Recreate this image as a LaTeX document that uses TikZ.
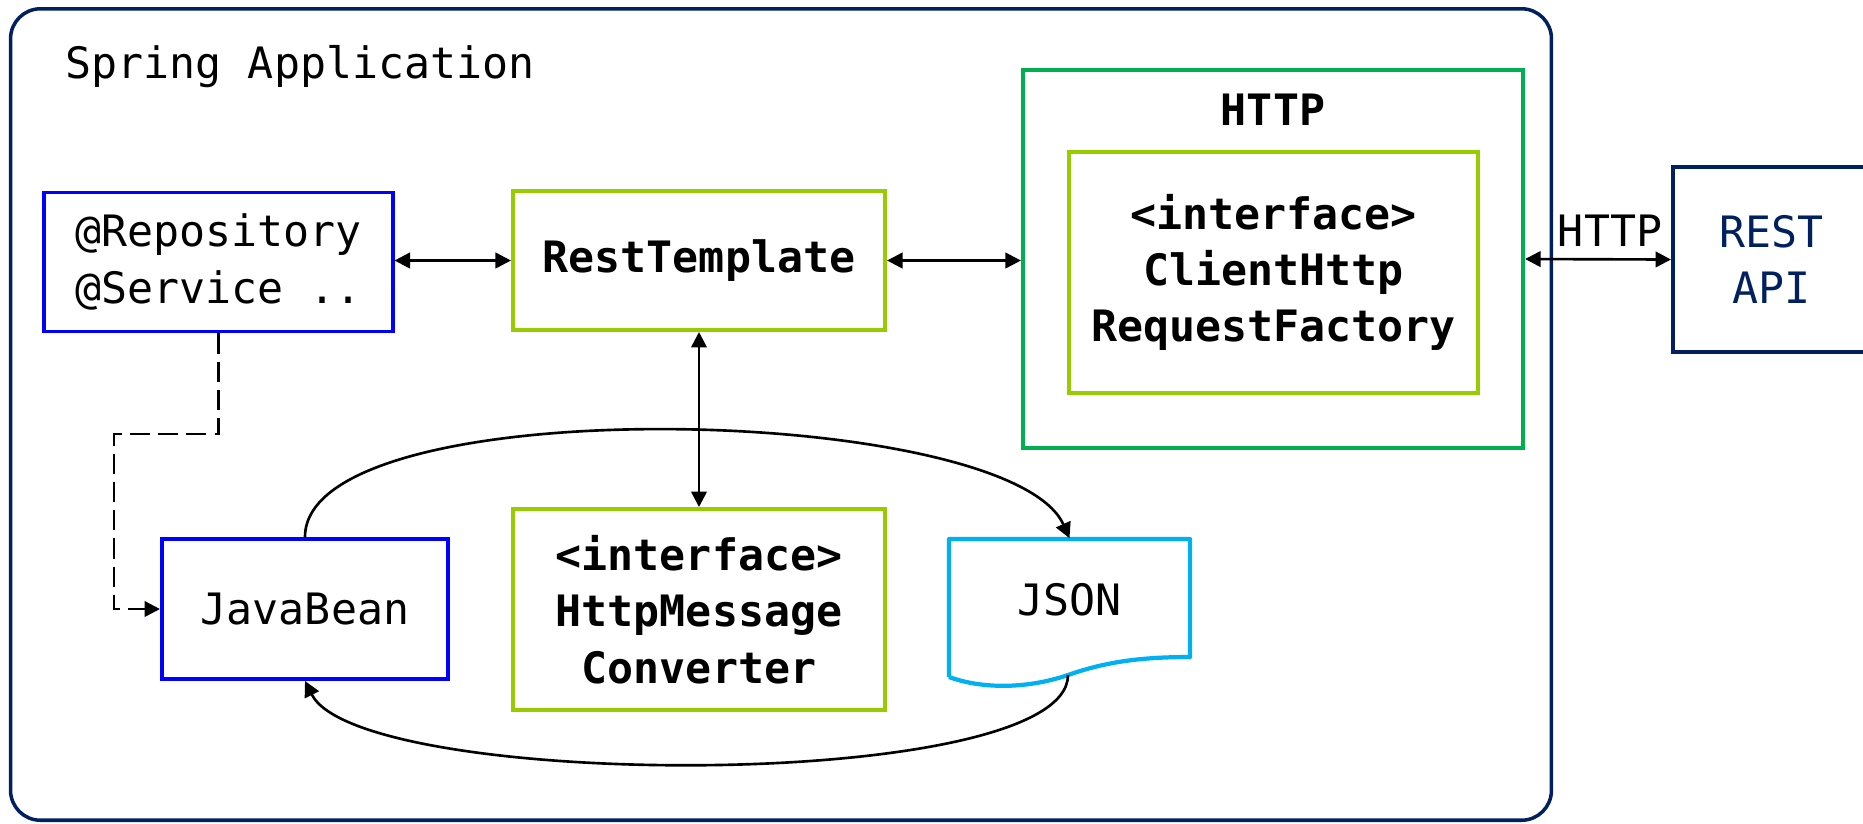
\documentclass[tikz,border=0pt]{standalone}
\usepackage{fontspec}
\setmonofont{DejaVu Sans Mono}
\usetikzlibrary{arrows.meta, positioning, calc}
\definecolor{navyline}{HTML}{002060}
\definecolor{beanblue}{HTML}{0000FF}
\definecolor{httpgreen}{HTML}{00B050}
\definecolor{limegreen}{HTML}{99CC00}
\definecolor{jsoncyan}{HTML}{00B0F0}
\begin{document}
\begin{tikzpicture}[x=0.01cm, y=-0.01cm,
  font=\ttfamily\fontsize{12.3}{16}\selectfont,
  box/.style={draw, line width=1.1pt, inner sep=0pt, align=center},
  link/.style={line width=0.75pt, {Triangle[length=4.4pt,width=4.4pt]}-{Triangle[length=4.4pt,width=4.4pt]}},
  flow/.style={line width=0.75pt, -{Triangle[length=4.4pt,width=4.4pt]}},
  dashline/.style={flow, dash pattern=on 5.7pt off 2.3pt}]
\useasboundingbox (0,0) rectangle (1863,823);

\node[draw=navyline, line width=1pt, rounded corners=8.5pt, minimum width=15.40cm, minimum height=8.11cm, inner sep=0pt] (app) at (781,414.5) {};
\node[anchor=base west, inner sep=0pt] (title) at (65,78) {Spring Application};

\node[box, draw=beanblue, align=left, minimum width=3.48cm, minimum height=1.39cm] (repo) at (218.5,262) {@Repository\\@Service ..};
\node[box, draw=limegreen, minimum width=3.72cm, minimum height=1.39cm, font=\ttfamily\bfseries\fontsize{12.3}{16}\selectfont] (rest) at (699,260.5) {RestTemplate};

\node[box, draw=httpgreen, minimum width=5.00cm, minimum height=3.78cm] (httpbox) at (1273,259) {};
\node[anchor=base, inner sep=0pt, font=\ttfamily\bfseries\fontsize{12.3}{16}\selectfont] (httptitle) at (1273,125) {HTTP};
\node[box, draw=limegreen, minimum width=4.09cm, minimum height=2.41cm, font=\ttfamily\bfseries\fontsize{12.3}{16}\selectfont] (factory) at (1273.5,272.5) {<interface>\\ClientHttp\\RequestFactory};

\node[box, draw=navyline, text=navyline, minimum width=1.97cm, minimum height=1.85cm] (api) at (1771.5,259.5) {REST\\API};

\node[box, draw=limegreen, minimum width=3.72cm, minimum height=2.01cm, font=\ttfamily\bfseries\fontsize{12.3}{16}\selectfont] (conv) at (699,609.5) {<interface>\\HttpMessage\\Converter};
\node[box, draw=beanblue, minimum width=2.86cm, minimum height=1.40cm] (bean) at (305,609) {JavaBean};
\node[inner sep=0pt, minimum width=2.41cm, minimum height=1.22cm] (json) at (1069.5,600) {JSON};
\draw[jsoncyan, line width=1.2pt, line join=round] (949,677) -- (949,539) -- (1190,539) -- (1190,657)
  .. controls (1140,657) and (1105,662) .. (1068,675)
  .. controls (1030,688) and (985,690) .. (949,677);
\coordinate (wave) at (1068,675);
\coordinate (bend) at (114,434);

\draw[link] (repo.east |- rest) -- (rest);
\draw[link] (rest.east) -- (rest.east -| httpbox.west);
\draw[link] (httpbox.east) -- node[above, xshift=0.12cm] (proto) {HTTP} (api.west);
\draw[link] (rest.south) -- (conv.north);
\draw[flow] (bean.north) .. controls +(0,-150) and +(-60,-135) .. (json.north);
\draw[flow] (wave) .. controls +(0,118) and +(55,110) .. (bean.south);
\draw[dashline] (repo.south) |- (bend) |- (bean.west);
\end{tikzpicture}
\end{document}
